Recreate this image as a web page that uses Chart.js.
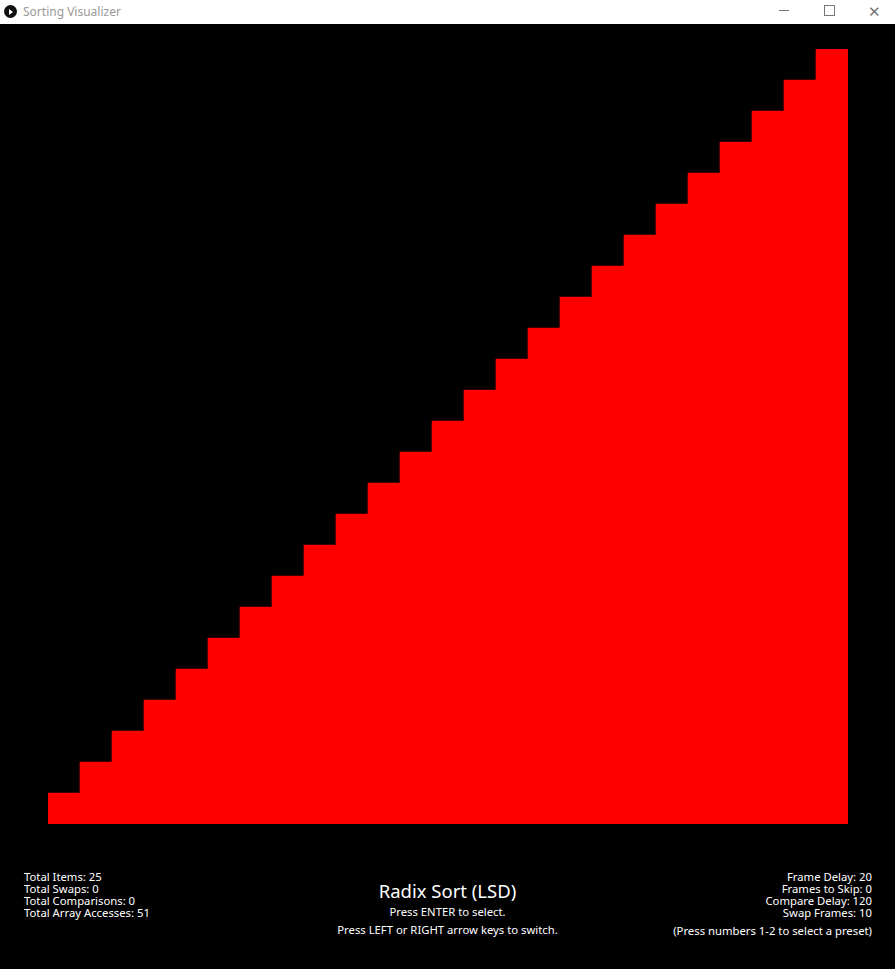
<!DOCTYPE html>
<html lang="en">
<head>
<meta charset="UTF-8">
<title>Sorting Visualizer</title>
<script src="https://cdn.jsdelivr.net/npm/chart.js"></script>
<style>
html,body{margin:0;padding:0;background:#000;width:895px;height:969px;overflow:hidden;
    font-family:"Noto Sans","Open Sans",Arial,sans-serif;}
.titlebar{position:absolute;left:0;top:0;width:895px;height:24px;background:#fff;}
.titlebar .name{position:absolute;left:23px;top:3px;font-size:12px;color:#999;}
.titlebar .icon{position:absolute;left:4px;top:5px;width:13px;height:13px;border-radius:50%;background:#111;}
.titlebar .icon:after{content:"";position:absolute;left:5px;top:3.5px;border-left:4px solid #fff;
    border-top:3px solid transparent;border-bottom:3px solid transparent;}
.btn-min{position:absolute;left:779px;top:10px;width:10px;height:1px;background:#777;}
.btn-max{position:absolute;left:824px;top:5px;width:9px;height:9px;border:1px solid #777;}
.btn-close{position:absolute;left:868px;top:0px;font-size:15px;color:#777;line-height:22px;}
#wrap{position:absolute;left:48px;top:49px;width:800px;height:775px;}
.info{position:absolute;color:#fff;font-size:11.3px;line-height:12px;white-space:nowrap;}
#left{left:24px;top:871px;}
#right{right:23px;top:871px;text-align:right;}
#preset{right:23px;top:925px;}
#center{position:absolute;left:0;width:895px;top:879px;text-align:center;color:#fff;white-space:nowrap;}
#center .algo{font-size:18.5px;line-height:24px;}
#center .hint{font-size:11.3px;line-height:18px;}
</style>
</head>
<body>
<div class="titlebar">
    <div class="icon"></div>
    <div class="name">Sorting Visualizer</div>
    <div class="btn-min"></div>
    <div class="btn-max"></div>
    <div class="btn-close">&#x2715;</div>
</div>

<div id="wrap"><canvas id="bars"></canvas></div>

<div id="left" class="info"></div>
<div id="center">
    <div class="algo">Radix Sort (LSD)</div>
    <div class="hint">Press ENTER to select.</div>
    <div class="hint">Press LEFT or RIGHT arrow keys to switch.</div>
</div>
<div id="right" class="info"></div>
<div id="preset" class="info">(Press numbers 1-2 to select a preset)</div>

<script>
/* array state (already sorted) */
const items=[1,2,3,4,5,6,7,8,9,10,11,12,13,14,15,16,17,18,19,20,21,22,23,24,25];
const values=[1,2,3,4,5,6,7,8,9,10,11,12,13,14,15,16,17,18,19,20,21,22,23,24,25];

/* on-screen stats */
const statsLeft=["Total Items: 25","Total Swaps: 0","Total Comparisons: 0","Total Array Accesses: 51"];
const statsRight=["Frame Delay: 20","Frames to Skip: 0","Compare Delay: 120","Swap Frames: 10"];

document.getElementById("left").innerHTML=statsLeft.join("<br>");
document.getElementById("right").innerHTML=statsRight.join("<br>");

new Chart(document.getElementById("bars"),{
    type:"bar",
    data:{
        labels:items,
        datasets:[{data:values,backgroundColor:"#ff0000",borderWidth:0,
            barPercentage:1,categoryPercentage:1}]
    },
    options:{
        animation:false,
        responsive:true,
        maintainAspectRatio:false,
        layout:{padding:0},
        plugins:{legend:{display:false},tooltip:{enabled:false}},
        scales:{
            x:{display:false,offset:true},
            y:{display:false,min:0,max:25}
        }
    }
});
</script>
</body>
</html>
